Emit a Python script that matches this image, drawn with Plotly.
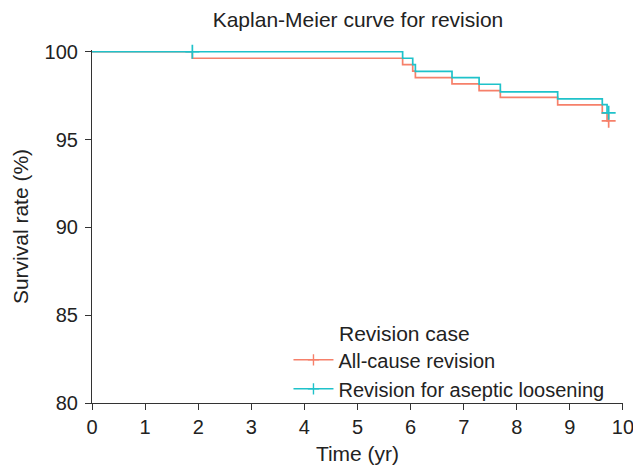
import plotly.graph_objects as go

# ---- data ----
all_cause_time = [0, 1.89, 5.85, 6.04, 6.09, 6.78, 7.29, 7.69, 8.77, 9.61, 9.70, 9.73]
all_cause_surv = [100, 99.63, 99.27, 98.90, 98.53, 98.17, 97.79, 97.40, 96.98, 96.51, 96.07, 96.07]
all_cause_cens_t = [9.73]
all_cause_cens_s = [96.07]

aseptic_time = [0, 5.85, 6.04, 6.09, 6.78, 7.29, 7.69, 8.77, 9.61, 9.70, 9.73]
aseptic_surv = [100, 99.63, 99.27, 98.88, 98.53, 98.15, 97.72, 97.32, 96.99, 96.52, 96.52]
aseptic_cens_t = [1.89, 9.73]
aseptic_cens_s = [100, 96.52]

series_names = ["All-cause revision", "Revision for aseptic loosening"]
colors = ["#F6806A", "#1FC2CA"]
x_ticks = list(range(0, 11))
y_ticks = [80, 85, 90, 95, 100]

FONT = "Liberation Sans, Arial, sans-serif"
TXT = "#222222"

fig = go.Figure()
data = [
    (all_cause_time, all_cause_surv, all_cause_cens_t, all_cause_cens_s),
    (aseptic_time, aseptic_surv, aseptic_cens_t, aseptic_cens_s),
]
for (t, s, ct, cs), name, col in zip(data, series_names, colors):
    fig.add_trace(go.Scatter(
        x=t, y=s, mode="lines", line=dict(color=col, width=1.7, shape="hv"),
        name=name, legendgroup=name, showlegend=False, hoverinfo="skip"))
    fig.add_trace(go.Scatter(
        x=ct, y=cs, mode="markers",
        marker=dict(symbol="cross-thin", size=10, color=col, line=dict(color=col, width=1.7)),
        name=name, legendgroup=name, showlegend=False, cliponaxis=False))
    # legend entry (line + censor mark)
    fig.add_trace(go.Scatter(
        x=[None], y=[None], mode="lines+markers",
        line=dict(color=col, width=1.6),
        marker=dict(symbol="cross-thin", size=8, color=col, line=dict(color=col, width=1.4)),
        name=name, legendgroup=name, showlegend=True))

fig.update_layout(
    width=633, height=470,
    margin=dict(l=92, r=10, t=50, b=67, autoexpand=False),
    paper_bgcolor="white", plot_bgcolor="white",
    font=dict(family=FONT, size=21, color=TXT),
    title=dict(text="Kaplan-Meier curve for revision", x=358 / 633, xanchor="center",
               y=1 - 20 / 470, yanchor="middle", font=dict(size=21, color=TXT)),
    showlegend=True,
    legend=dict(x=0.370, xanchor="left", y=-0.015, yanchor="bottom",
                bgcolor="rgba(0,0,0,0)", font=dict(size=20, color=TXT),
                itemwidth=40, tracegroupgap=0),
    annotations=[dict(text="Revision case", x=0.462, xref="paper", xanchor="left",
                      y=(403 - 333) / 353, yref="paper", yanchor="middle",
                      showarrow=False, font=dict(size=21, color=TXT))],
)
fig.update_xaxes(range=[0, 10.0001], tickvals=x_ticks, ticktext=[str(v) for v in x_ticks],
                 automargin=False, ticklabeloverflow="allow",
                 showgrid=False, zeroline=False, showline=True, linecolor="#333333", linewidth=1.2,
                 ticks="outside", ticklen=6, tickcolor="#333333", tickwidth=1.2,
                 tickfont=dict(size=20, color=TXT),
                 title=dict(text="Time (yr)", font=dict(size=21, color=TXT), standoff=9))
fig.update_yaxes(range=[80, 100.1], tickvals=y_ticks, ticktext=[str(v) for v in y_ticks],
                 automargin=False, ticklabeloverflow="allow",
                 showgrid=False, zeroline=False, showline=True, linecolor="#333333", linewidth=1.2,
                 ticks="outside", ticklen=6, tickcolor="#333333", tickwidth=1.2,
                 tickfont=dict(size=20, color=TXT), ticklabelstandoff=3,
                 title=dict(text="Survival rate (%)", font=dict(size=21, color=TXT), standoff=10))

fig.write_html("out.html", config={"displayModeBar": False},
               post_script="document.body.style.margin='0';document.body.style.padding='0';")
